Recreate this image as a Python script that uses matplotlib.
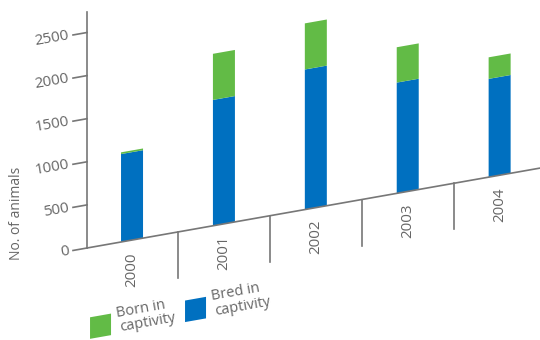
import matplotlib
matplotlib.use("Agg")
import matplotlib.pyplot as plt
from matplotlib.transforms import Affine2D
from matplotlib.patches import Rectangle

years = ["2000", "2001", "2002", "2003", "2004"]
bred = [1020, 1460, 1625, 1285, 1140]
born = [20, 535, 535, 410, 250]
yticks = [0, 500, 1000, 1500, 2000, 2500]

BLUE = "#0070c0"
GREEN = "#62bb46"
GRAY = "#777777"
TXT = "#666666"
FONT = "Open Sans"

W, H = 540, 340
fig = plt.figure(figsize=(W / 100, H / 100), dpi=100)
x0_px, y0_px = 87, 248          # axis origin (image px)
px_per_cat = 91.9
px_per_unit = 0.0862
xmin = -0.49
xmax = xmin + (W - x0_px) / px_per_cat
ymax = (y0_px - 12) / px_per_unit
ax = fig.add_axes([x0_px / W, (H - y0_px) / H, (W - x0_px) / W, (y0_px - 12) / H])
ax.set_xlim(xmin, xmax)
ax.set_ylim(0, ymax)
ax.axis("off")

slope = 0.1764
k = slope * px_per_cat / px_per_unit
skew = Affine2D.from_values(1, k, 0, 1, 0, -k * xmin) + ax.transData

xs = list(range(len(years)))
bw = 22 / px_per_cat
ax.bar(xs, bred, width=bw, color=BLUE, transform=skew, clip_on=False)
ax.bar(xs, born, width=bw, bottom=bred, color=GREEN, transform=skew, clip_on=False)

# baseline and y axis
ax.plot([xmin, xmax], [0, 0], color=GRAY, lw=1.2, transform=skew, clip_on=False)
ax.plot([xmin, xmin], [0, ymax], color=GRAY, lw=1.2, clip_on=False)

# dividers
div_len = 46 / px_per_unit
for i in range(len(years) - 1):
    ax.plot([i + 0.5, i + 0.5], [0, -div_len], color=GRAY, lw=1.2,
            transform=skew, clip_on=False)

# category labels
for i, y in enumerate(years):
    ax.text(i, -12 / px_per_unit, y, rotation=90, ha="center", va="top",
            color=TXT, fontsize=10.8, family=FONT, transform=skew)

# y ticks
tick_l = xmin - 14 / px_per_cat
for v in yticks:
    ax.plot([tick_l, xmin], [v, v], color=GRAY, lw=1.2, transform=skew, clip_on=False)
    ax.text(xmin - 18 / px_per_cat, v, f"{v}", ha="right", va="center",
            rotation=10, rotation_mode="anchor", color=TXT, fontsize=11,
            family=FONT, transform=skew)

fig.text(17 / W, 1 - 213 / H, "No. of animals", rotation=90, ha="center",
         va="center", color=TXT, fontsize=10, family=FONT)

# legend
leg = [("Born in\ncaptivity", GREEN, (90 - 132) / px_per_cat),
       ("Bred in\ncaptivity", BLUE, (185 - 132) / px_per_cat)]
sq_w = 21 / px_per_cat
for label, col, lx in leg:
    ax.add_patch(Rectangle((lx, -1060), sq_w, 250, facecolor=col,
                           edgecolor="none", transform=skew, clip_on=False))
    ax.text(lx + sq_w + 7 / px_per_cat, -905, label, ha="left", va="center",
            rotation=10, rotation_mode="anchor", color=TXT, fontsize=10.5,
            family=FONT, linespacing=1.0, transform=skew)

fig.savefig("out.png", dpi=100)
